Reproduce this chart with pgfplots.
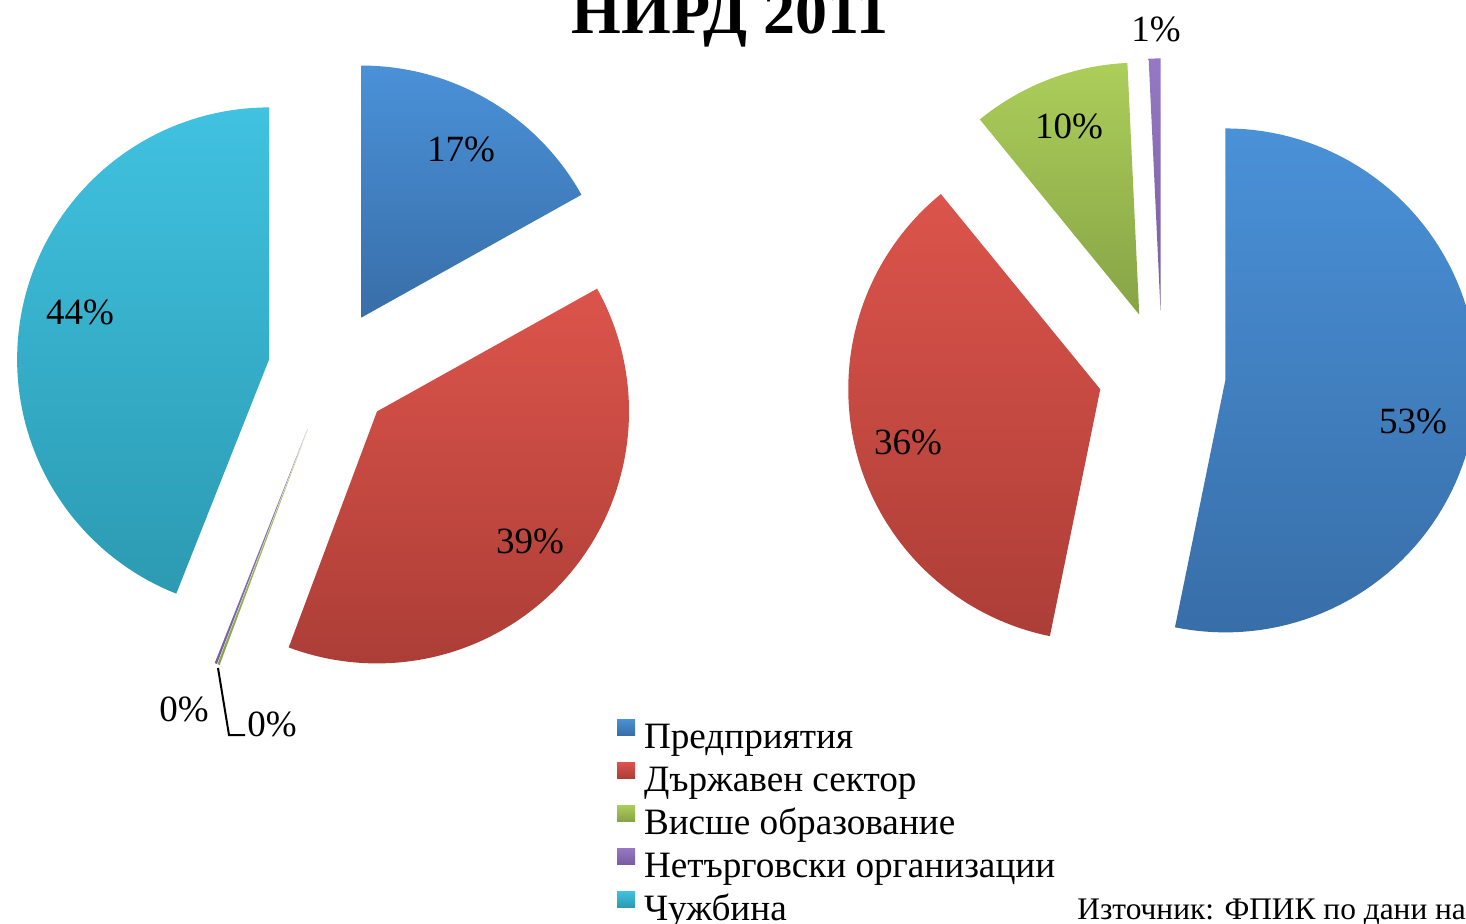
\documentclass[border=0pt]{standalone}
\usepackage{fontspec}
\setmainfont{Liberation Serif}
\usepackage{pgfplots}
\pgfplotsset{compat=1.18}

\definecolor{blueT}{RGB}{74,145,216}
\definecolor{blueB}{RGB}{56,110,168}
\definecolor{redT}{RGB}{220,84,75}
\definecolor{redB}{RGB}{172,62,55}
\definecolor{greenT}{RGB}{172,206,90}
\definecolor{greenB}{RGB}{134,164,70}
\definecolor{purpleT}{RGB}{150,120,196}
\definecolor{purpleB}{RGB}{120,94,160}
\definecolor{cyanT}{RGB}{64,194,224}
\definecolor{cyanB}{RGB}{44,154,178}

% radius of the pies (pixel units)
\def\R{252}
% left pie: shares in %
\def\lP{16.9}\def\lD{38.8}\def\lV{0.15}\def\lN{0.15}\def\lC{44.0}
% right pie: shares in %
\def\rP{53.2}\def\rD{35.9}\def\rV{10.15}\def\rN{0.75}\def\rC{0}

% #1 cx, #2 cy, #3 explode, #4 cumulative share before, #5 share, #6 top colour, #7 bottom colour
\newcommand{\pieslice}[7]{%
  \pgfmathsetmacro\aE{90-3.6*(#4)}%
  \pgfmathsetmacro\aS{\aE-3.6*(#5)}%
  \pgfmathsetmacro\aM{(\aS+\aE)/2}%
  \pgfmathsetmacro\ox{#1+#3*cos(\aM)}%
  \pgfmathsetmacro\oy{#2-#3*sin(\aM)}%
  \edef\doslice{\noexpand\addplot[forget plot, draw=none, top color=#6, bottom color=#7,
      domain=\aS:\aE, samples=90, variable=\noexpand\t]
      ({\ox+\R*cos(\noexpand\t)}, {\oy-\R*sin(\noexpand\t)}) -- (axis cs:\ox,\oy) -- cycle;}%
  \doslice}

\begin{document}
\begin{tikzpicture}
\useasboundingbox (0,0) rectangle (733pt,461.5pt);
\clip (0,0) rectangle (733pt,461.5pt);
\begin{axis}[
  at={(0,0)}, anchor=south west,
  scale only axis, width=733pt, height=461.5pt,
  xmin=0, xmax=1466, ymin=0, ymax=923, y dir=reverse,
  hide axis, clip=false,
  legend style={at={(axis cs:617,719)}, anchor=north west, draw=none, fill=none,
    inner sep=0pt, outer sep=0pt, row sep=0pt,
    font=\fontsize{18.6}{21}\selectfont,
    nodes={inner sep=0pt, text height=14pt, text depth=7pt},
    /tikz/every odd column/.append style={column sep=4.5pt}},
  legend cell align=left,
]
% left pie
\pieslice{330}{371}{62}{0}{\lP}{blueT}{blueB}
\pieslice{330}{371}{62}{\lP}{\lD}{redT}{redB}
\pieslice{330}{371}{62}{\lP+\lD}{\lV}{greenT}{greenB}
\pieslice{330}{371}{62}{\lP+\lD+\lV}{\lN}{purpleT}{purpleB}
\pieslice{330}{371}{62}{\lP+\lD+\lV+\lN}{\lC}{cyanT}{cyanB}
% right pie
\pieslice{1162}{374}{63.6}{0}{\rP}{blueT}{blueB}
\pieslice{1162}{374}{63.6}{\rP}{\rD}{redT}{redB}
\pieslice{1162}{374}{63.6}{\rP+\rD}{\rV}{greenT}{greenB}
\pieslice{1162}{374}{63.6}{\rP+\rD+\rV}{\rN}{purpleT}{purpleB}

\addlegendimage{legend image code/.code={\fill[draw=none,top color=blueT,bottom color=blueB] (0pt,3pt) rectangle (9pt,11pt);}}
\addlegendentry{Предприятия}
\addlegendimage{legend image code/.code={\fill[draw=none,top color=redT,bottom color=redB] (0pt,3pt) rectangle (9pt,11pt);}}
\addlegendentry{Държавен сектор}
\addlegendimage{legend image code/.code={\fill[draw=none,top color=greenT,bottom color=greenB] (0pt,3pt) rectangle (9pt,11pt);}}
\addlegendentry{Висше образование}
\addlegendimage{legend image code/.code={\fill[draw=none,top color=purpleT,bottom color=purpleB] (0pt,3pt) rectangle (9pt,11pt);}}
\addlegendentry{Нетърговски организации}
\addlegendimage{legend image code/.code={\fill[draw=none,top color=cyanT,bottom color=cyanB] (0pt,3pt) rectangle (9pt,11pt);}}
\addlegendentry{Чужбина}

% labels
\begin{scope}[every node/.style={font=\fontsize{18.5}{20}\selectfont, inner sep=0pt}]
\node at (axis cs:461,149) {17\%};
\node at (axis cs:80,312) {44\%};
\node at (axis cs:530,541) {39\%};
\node at (axis cs:184,709) {0\%};
\node at (axis cs:272,724) {0\%};
\node at (axis cs:1069,126) {10\%};
\node at (axis cs:1156,29) {1\%};
\node at (axis cs:908,442) {36\%};
\node at (axis cs:1413,421) {53\%};
\end{scope}
\draw[black, line width=1pt] (axis cs:218,668) -- (axis cs:229,735) -- (axis cs:245,735);

\node[anchor=base, inner sep=0pt, font=\bfseries\fontsize{32}{38}\selectfont] at (axis cs:730,33) {НИРД 2011};
\node[anchor=base west, inner sep=0pt, font=\fontsize{15.7}{19}\selectfont] at (axis cs:1077,919) {Източник: ФПИК по дани на};
\end{axis}
\end{tikzpicture}
\end{document}
